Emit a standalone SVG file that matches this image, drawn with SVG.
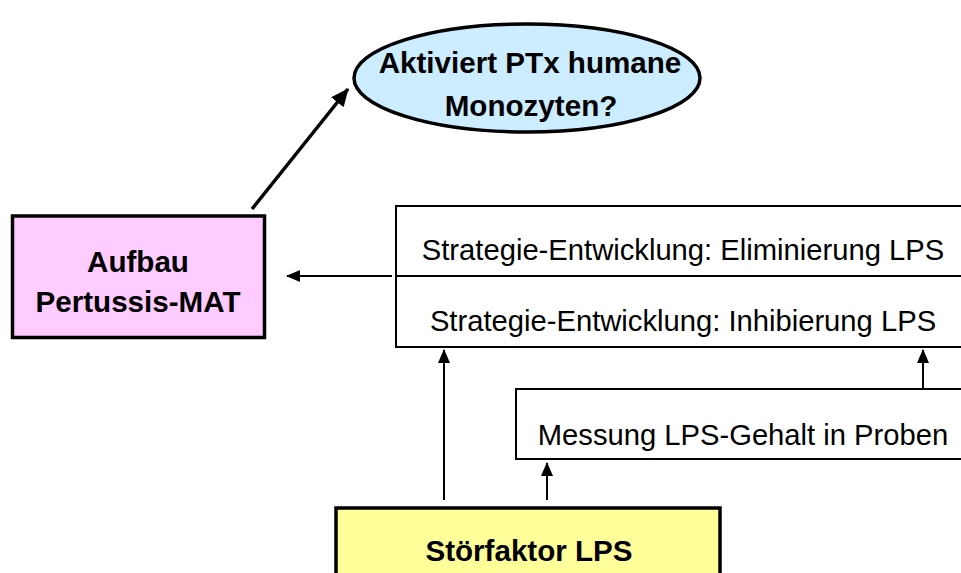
<svg xmlns="http://www.w3.org/2000/svg" width="961" height="573" viewBox="0 0 961 573">
  <style>
    .b { font-family: "Liberation Sans", Arial, sans-serif; font-weight: bold; font-size: 29.6px; fill: #000; text-anchor: middle; }
    .r { font-family: "Liberation Sans", Arial, sans-serif; font-size: 29.2px; fill: #000; text-anchor: middle; }
    .thick { stroke: #000; stroke-width: 3.5; }
    .thin { fill: #fff; stroke: #000; stroke-width: 2; }
    .line { stroke: #000; stroke-width: 2; fill: none; }
  </style>
  <defs>
    <marker id="head" markerUnits="userSpaceOnUse" markerWidth="14" markerHeight="12" refX="13" refY="6" orient="auto">
      <path d="M0,0 L14,6 L0,12 Z" fill="#000"/>
    </marker>
    <marker id="headBig" markerUnits="userSpaceOnUse" markerWidth="18" markerHeight="16" refX="17" refY="8" orient="auto">
      <path d="M0,0 L18,8 L0,16 Z" fill="#000"/>
    </marker>
  </defs>
  <rect width="961" height="573" fill="#fff"/>

  <!-- connectors -->
  <g id="connectors">
    <line x1="252" y1="209" x2="348" y2="89" stroke="#000" stroke-width="3.5" marker-end="url(#headBig)"/>
    <line class="line" x1="392" y1="276" x2="287" y2="276" marker-end="url(#head)"/>
    <line class="line" x1="444" y1="500" x2="444" y2="350" marker-end="url(#head)"/>
    <line class="line" x1="547" y1="500" x2="547" y2="463" marker-end="url(#head)"/>
    <line class="line" x1="923" y1="388" x2="923" y2="350" marker-end="url(#head)"/>
  </g>

  <!-- question ellipse -->
  <g id="frage">
    <ellipse cx="527" cy="78" rx="173" ry="54" fill="#ccecff" class="thick"/>
    <text class="b" x="530" y="73">Aktiviert PTx humane</text>
    <text class="b" x="531" y="116">Monozyten?</text>
  </g>

  <!-- MAT setup -->
  <g id="aufbau">
    <rect x="12.5" y="216" width="252" height="121.5" fill="#ffccff" class="thick"/>
    <text class="b" x="138" y="272">Aufbau</text>
    <text class="b" x="138" y="312">Pertussis-MAT</text>
  </g>

  <!-- strategy box, two rows -->
  <g id="strategie">
    <rect x="396" y="206" width="600" height="141" class="thin"/>
    <line class="line" x1="396" y1="276" x2="961" y2="276"/>
    <text class="r" x="683" y="260">Strategie-Entwicklung: Eliminierung LPS</text>
    <text class="r" x="683" y="331">Strategie-Entwicklung: Inhibierung LPS</text>
  </g>

  <!-- measurement box -->
  <g id="messung">
    <rect x="516" y="389" width="480" height="70" class="thin"/>
    <text class="r" x="743" y="445">Messung LPS-Gehalt in Proben</text>
  </g>

  <!-- interfering factor -->
  <g id="stoerfaktor">
    <rect x="336" y="508" width="384" height="90" fill="#ffff99" class="thick"/>
    <text class="b" x="529" y="561">Störfaktor LPS</text>
  </g>
</svg>
